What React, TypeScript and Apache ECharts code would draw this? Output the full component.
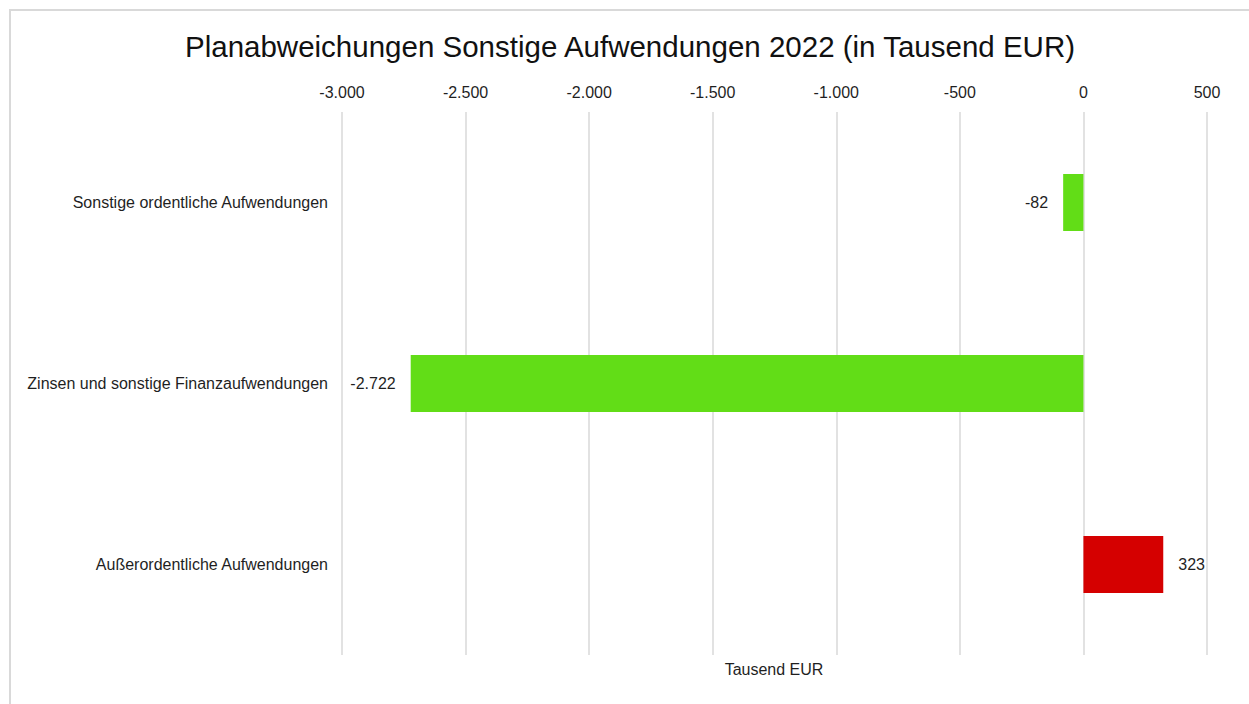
import React, { useEffect, useRef } from "react";
import * as echarts from "echarts";

const categories = [
  "Sonstige ordentliche Aufwendungen",
  "Zinsen und sonstige Finanzaufwendungen",
  "Außerordentliche Aufwendungen",
];
const values = [-82, -2722, 323];
const axisMin = -3000;
const axisMax = 500;
const axisStep = 500;
const titleText = "Planabweichungen Sonstige Aufwendungen 2022 (in Tausend EUR)";
const axisTitle = "Tausend EUR";

const fmt = (v: number) => {
  const s = Math.abs(Math.round(v)).toString().replace(/\B(?=(\d{3})+(?!\d))/g, ".");
  return (v < 0 ? "-" : "") + s;
};

const FONT = "Liberation Sans, Arial, sans-serif";
const TEXT = "#1f1f1f";

export default function App() {
  const ref = useRef<HTMLDivElement>(null);
  useEffect(() => {
    if (!ref.current) return;
    const chart = echarts.init(ref.current, undefined, { renderer: "svg" });
    chart.setOption({
      animation: false,
      backgroundColor: "#ffffff",
      textStyle: { fontFamily: FONT },
      title: {
        text: titleText,
        left: 625,
        top: 26,
        textAlign: "center",
        textStyle: { fontSize: 29.5, fontWeight: "normal", color: "#111", fontFamily: FONT },
      },
      grid: { left: 342, right: 42, top: 112, bottom: 49, containLabel: false },
      xAxis: {
        type: "value",
        position: "top",
        min: axisMin,
        max: axisMax,
        interval: axisStep,
        axisLine: { show: false },
        axisTick: { show: false },
        axisLabel: { fontSize: 16, color: TEXT, margin: 12, formatter: (v: number) => fmt(v), fontFamily: FONT },
        splitLine: { show: true, lineStyle: { color: "#d9d9d9", width: 1.5 } },
      },
      yAxis: {
        type: "category",
        data: categories,
        inverse: true,
        axisLine: { show: false },
        axisTick: { show: false },
        axisLabel: { fontSize: 16, color: TEXT, margin: 14, fontFamily: FONT },
        splitLine: { show: false },
      },
      series: [
        {
          type: "bar",
          barWidth: 57,
          data: values.map((v) => ({
            value: v,
            itemStyle: { color: v < 0 ? "#62dd17" : "#d50000" },
            label: { position: v < 0 ? "left" : "right" },
          })),
          label: {
            show: true,
            distance: 15,
            fontSize: 16,
            color: TEXT,
            fontFamily: FONT,
            formatter: (p: any) => fmt(p.value),
          },
        },
      ],
      graphic: [
        {
          type: "rect",
          silent: true,
          shape: { x: 10, y: 10, width: 1400, height: 900 },
          style: { fill: "none", stroke: "#d9d9d9", lineWidth: 2 },
        },
        {
          type: "text",
          x: 774,
          y: 669,
          style: {
            text: axisTitle,
            fontSize: 16,
            fill: TEXT,
            fontFamily: FONT,
            align: "center",
            verticalAlign: "middle",
          },
        },
      ],
    });
    return () => chart.dispose();
  }, []);
  return (
    <div
      ref={ref}
      style={{ position: "fixed", left: 0, top: 0, width: 1249, height: 704 }}
    />
  );
}
